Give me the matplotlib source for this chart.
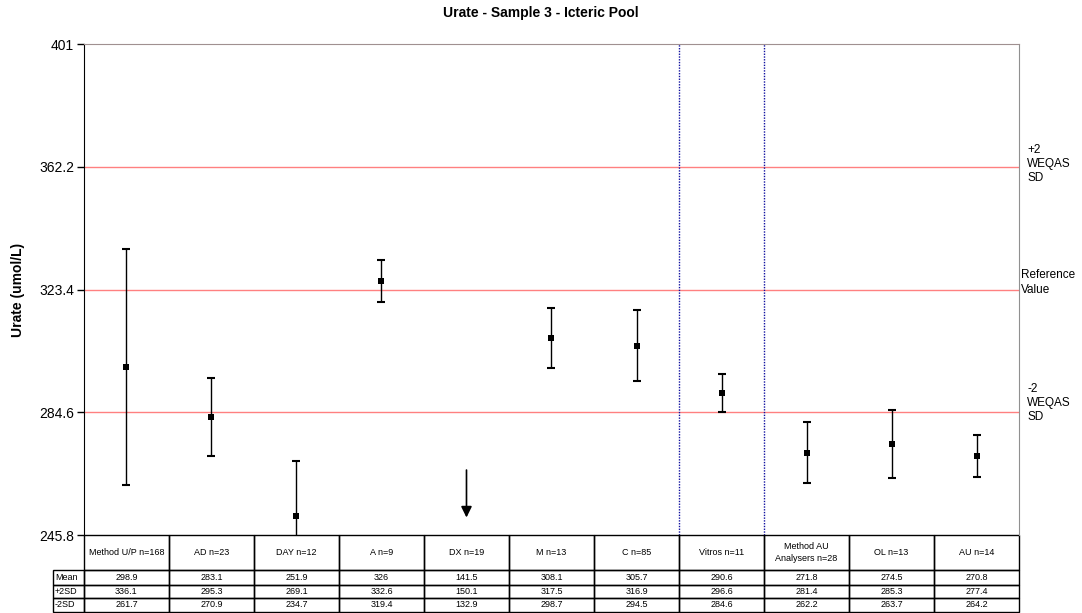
import numpy as np
import matplotlib.pyplot as plt
from matplotlib import transforms
from matplotlib.patches import Rectangle

plt.rcParams['font.family'] = ['Liberation Sans', 'DejaVu Sans']

labels = ['Method U/P n=168', 'AD n=23', 'DAY n=12', 'A n=9', 'DX n=19', 'M n=13',
          'C n=85', 'Vitros n=11', 'Method AU\nAnalysers n=28', 'OL n=13', 'AU n=14']
mean = [298.9, 283.1, 251.9, 326, 141.5, 308.1, 305.7, 290.6, 271.8, 274.5, 270.8]
plus2sd = [336.1, 295.3, 269.1, 332.6, 150.1, 317.5, 316.9, 296.6, 281.4, 285.3, 277.4]
minus2sd = [261.7, 270.9, 234.7, 319.4, 132.9, 298.7, 294.5, 284.6, 262.2, 263.7, 264.2]
row_labels = ['Mean', '+2SD', '-2SD']

ref_value = 323.4
weqas_sd = 19.4
yticks = [245.8, 284.6, 323.4, 362.2, 401]
off_scale = [4]  # DX: mean below the axis

fig = plt.figure(figsize=(10.82, 6.13), dpi=100)
ax = fig.add_axes([0.0776, 0.1272, 0.8642, 0.8010])

x = np.arange(len(labels))
mean_a = np.array(mean)
yerr = [mean_a - np.array(minus2sd), np.array(plus2sd) - mean_a]
ax.errorbar(x, mean, yerr=yerr, fmt='none', ecolor='black',
            elinewidth=1, capsize=3, capthick=1.5, zorder=3)
ax.plot(x, mean, 's', color='black', ms=5, mew=0, zorder=4, ls='none')

for yv in [ref_value + 2 * weqas_sd, ref_value, ref_value - 2 * weqas_sd]:
    ax.axhline(yv, color='#FF8080', lw=1, zorder=1)
for xv in [6.5, 7.5]:
    ax.axvline(xv, color='#1010A0', lw=1, ls=(0, (1, 1)), zorder=1)

# off-scale arrow
for i in off_scale:
    ax.annotate('', xy=(x[i], 0.03), xytext=(x[i], 0.138),
                xycoords=('data', 'axes fraction'),
                arrowprops=dict(arrowstyle='-|>,head_length=0.65,head_width=0.32',
                                color='black', lw=1.2))

ax.set_xlim(-0.5, len(labels) - 0.5)
ax.set_ylim(yticks[0], yticks[-1])
ax.set_yticks(yticks)
ax.set_yticklabels([f'{v:g}' for v in yticks])
ax.set_xticks([])
ax.tick_params(axis='y', direction='out', length=5, width=1, labelsize=10, pad=2)
ax.spines['left'].set_color('black')
ax.spines['top'].set_color('#A09090')
ax.spines['right'].set_color('#909090')
ax.spines['bottom'].set_visible(False)
ax.set_ylabel('Urate (umol/L)', fontsize=10, fontweight='bold', labelpad=10.5)

fig.text(0.5, 0.978, 'Urate - Sample 3 - Icteric Pool', ha='center', va='center',
         fontsize=10, fontweight='bold')

trans = transforms.blended_transform_factory(ax.transAxes, ax.transData)
ax.text(1.009, 363.0, '+2\nWEQAS\nSD', transform=trans, ha='left', va='center',
        fontsize=8.5, linespacing=1.25)
ax.text(1.002, 325.6, 'Reference\nValue', transform=trans, ha='left', va='center',
        fontsize=8.5, linespacing=1.25)
ax.text(1.009, 287.6, '-2\nWEQAS\nSD', transform=trans, ha='left', va='center',
        fontsize=8.5, linespacing=1.25)

# data table below the axes (axes fraction coords)
ax_h = 491.0
n = len(labels)
col_w = 1.0 / n
row_w = 31 / 935
edges = [0, -35 / ax_h, -49.5 / ax_h, -63 / ax_h, -76.5 / ax_h]
cell_text = [[f'{v:g}' for v in mean], [f'{v:g}' for v in plus2sd],
             [f'{v:g}' for v in minus2sd]]


def cell(x0, y0, w, h):
    ax.add_patch(Rectangle((x0, y0), w, h, transform=ax.transAxes, fill=False,
                           edgecolor='black', lw=1, clip_on=False))


for j, lab in enumerate(labels):
    cell(j * col_w, edges[1], col_w, edges[0] - edges[1])
    ax.text((j + 0.5) * col_w, (edges[0] + edges[1]) / 2, lab, transform=ax.transAxes,
            ha='center', va='center', fontsize=6.5, linespacing=1.3)
for r in range(3):
    y0, y1 = edges[r + 2], edges[r + 1]
    cell(-row_w, y0, row_w, y1 - y0)
    ax.text(-row_w + 0.002, (y0 + y1) / 2, row_labels[r], transform=ax.transAxes,
            ha='left', va='center', fontsize=6.5)
    for j in range(n):
        cell(j * col_w, y0, col_w, y1 - y0)
        ax.text((j + 0.5) * col_w, (y0 + y1) / 2, cell_text[r][j], transform=ax.transAxes,
                ha='center', va='center', fontsize=6.5)

fig.savefig('out.png', dpi=100)
